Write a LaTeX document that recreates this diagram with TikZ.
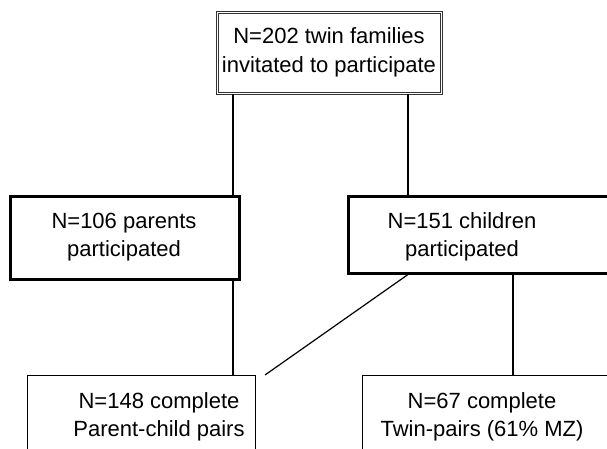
\documentclass[tikz,border=0pt]{standalone}
\usepackage{fontspec}
\setmainfont{Liberation Sans}
\begin{document}
\begin{tikzpicture}[x=1pt,y=-1pt,
  txt/.style={align=center, font=\fontsize{22}{28.5}\selectfont, inner sep=0pt},
  box/.style={rectangle, anchor=north west, inner sep=0pt},
  topbox/.style={box, draw=black!80, double, double distance=0.8pt, line width=0.8pt},
  midbox/.style={box, draw=black, line width=2.5pt},
  lowbox/.style={box, draw=black, line width=1.2pt},
  thicklink/.style={line width=2.2pt, draw=black},
  thinlink/.style={line width=1.2pt, draw=black}]
\useasboundingbox (0,0) rectangle (607,449);
\clip (0,0) rectangle (607,449);
% boxes
\node[topbox, minimum width=224pt, minimum height=81pt] (top) at (217,12) {};
\node[midbox, minimum width=229pt, minimum height=83pt] (midL) at (9,195) {};
\node[midbox, minimum width=270pt, minimum height=77pt] (midR) at (347,195) {};
\node[lowbox, minimum width=228pt, minimum height=90pt] (lowL) at (27,375) {};
\node[lowbox, minimum width=260pt, minimum height=90pt] (lowR) at (362,375) {};
% texts
\node[txt] (tTop) at (329,52.5) {N=202 twin families\\invitated to participate};
\node[txt] (tMidL) at (124,237) {N=106 parents\\participated};
\node[txt] (tMidR) at (462,237) {N=151 children\\participated};
\node[txt] (tLowL) at (159,417) {N=148 complete\\Parent-child pairs};
\node[txt] (tLowR) at (482,417) {N=67 complete\\Twin-pairs (61\% MZ)};
% connector x positions
\coordinate (xa) at (233,0);
\coordinate (xb) at (408,0);
\coordinate (xc) at (265,0);
\coordinate (xd) at (513,0);
\draw[thicklink] (top.south -| xa) -- (midL.north -| xa);
\draw[thicklink] (top.south -| xb) -- (midR.north -| xb);
\draw[thinlink] (midL.south -| xa) -- (lowL.north -| xa);
\draw[thinlink] (midR.south -| xb) -- (lowL.north -| xc);
\draw[thinlink] (midR.south -| xd) -- (lowR.north -| xd);
\end{tikzpicture}
\end{document}
